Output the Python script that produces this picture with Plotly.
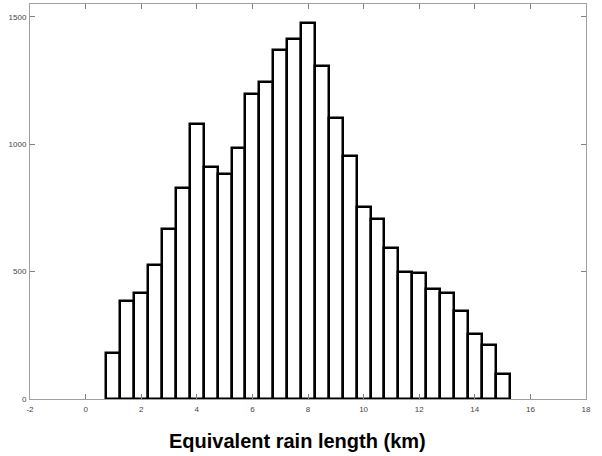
import plotly.graph_objects as go

bin_centers = [1.0, 1.5, 2.0, 2.5, 3.0, 3.5, 4.0, 4.5, 5.0, 5.5, 6.0, 6.5, 7.0, 7.5,
               8.0, 8.5, 9.0, 9.5, 10.0, 10.5, 11.0, 11.5, 12.0, 12.5, 13.0, 13.5,
               14.0, 14.5, 15.0]
counts = [180, 383, 416, 527, 667, 827, 1080, 910, 883, 984, 1196, 1245, 1370, 1412,
          1477, 1307, 1102, 955, 755, 707, 592, 498, 496, 431, 416, 344,
          257, 213, 99]
bin_width = 0.5
x_ticks = [-2, 0, 2, 4, 6, 8, 10, 12, 14, 16, 18]
y_ticks = [0, 500, 1000, 1500]
x_label = "Equivalent rain length (km)"

fig = go.Figure()
fig.add_trace(go.Bar(
    x=bin_centers, y=counts, width=bin_width,
    marker=dict(color="white", line=dict(color="black", width=2.5)),
    showlegend=False,
))

axis_common = dict(
    showgrid=False, zeroline=False, showline=True, linecolor="#a0a0a0", linewidth=1,
    mirror="ticks", ticks="inside", ticklen=5, tickcolor="#808080", tickwidth=1,
    tickfont=dict(family="Liberation Sans, Arial, sans-serif", size=8, color="#444444"),
)

fig.update_layout(
    width=602, height=456,
    margin=dict(l=30, r=16, t=4, b=57),
    paper_bgcolor="white", plot_bgcolor="white",
    bargap=0,
    xaxis=dict(range=[-2, 18], tickvals=x_ticks, ticktext=[str(v) for v in x_ticks],
               ticklabelstandoff=2, **axis_common),
    yaxis=dict(range=[0, 1550], tickvals=y_ticks, ticktext=[str(v) for v in y_ticks],
               ticklabelstandoff=1, **axis_common),
    annotations=[dict(
        text=x_label, xref="paper", yref="paper", x=0.482, y=-0.106,
        xanchor="center", yanchor="middle", showarrow=False,
        font=dict(family="Liberation Sans, Arial, sans-serif", size=20, color="black",
                  weight="bold"),
    )],
)

fig.write_html("out.html", config={"displayModeBar": False},
               post_script="document.body.style.margin='0';")
